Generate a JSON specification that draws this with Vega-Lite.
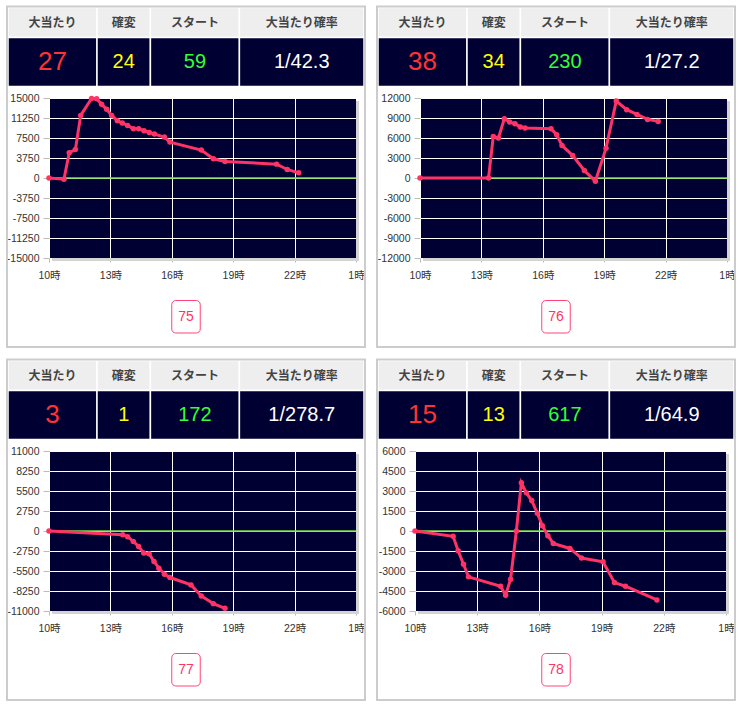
{
  "$schema": "https://vega.github.io/schema/vega-lite/v6.json",
  "background": "white",
  "padding": {"left": 6, "top": 5, "right": 2, "bottom": 2},
  "datasets": {
    "columns": [
      {"metric": "大当たり", "left": 0, "right": 25},
      {"metric": "確変", "left": 25, "right": 40},
      {"metric": "スタート", "left": 40, "right": 65},
      {"metric": "大当たり確率", "left": 65, "right": 100}
    ],
    "stats": [
      {"p": 1, "metric": "大当たり", "value": "27"},
      {"p": 1, "metric": "確変", "value": "24"},
      {"p": 1, "metric": "スタート", "value": "59"},
      {"p": 1, "metric": "大当たり確率", "value": "1/42.3"},
      {"p": 2, "metric": "大当たり", "value": "38"},
      {"p": 2, "metric": "確変", "value": "34"},
      {"p": 2, "metric": "スタート", "value": "230"},
      {"p": 2, "metric": "大当たり確率", "value": "1/27.2"},
      {"p": 3, "metric": "大当たり", "value": "3"},
      {"p": 3, "metric": "確変", "value": "1"},
      {"p": 3, "metric": "スタート", "value": "172"},
      {"p": 3, "metric": "大当たり確率", "value": "1/278.7"},
      {"p": 4, "metric": "大当たり", "value": "15"},
      {"p": 4, "metric": "確変", "value": "13"},
      {"p": 4, "metric": "スタート", "value": "617"},
      {"p": 4, "metric": "大当たり確率", "value": "1/64.9"}
    ],
    "buttons": [
      {"p": 1, "label": "75"},
      {"p": 2, "label": "76"},
      {"p": 3, "label": "77"},
      {"p": 4, "label": "78"}
    ],
    "series": [
      {"p": 1, "t": 10, "v": 0}, {"p": 1, "t": 10.73, "v": -220}, {"p": 1, "t": 10.99, "v": 4730}, {"p": 1, "t": 11.29, "v": 5350},
      {"p": 1, "t": 11.55, "v": 11740}, {"p": 1, "t": 12.08, "v": 14900}, {"p": 1, "t": 12.33, "v": 14850}, {"p": 1, "t": 12.57, "v": 13810},
      {"p": 1, "t": 12.82, "v": 12870}, {"p": 1, "t": 13.06, "v": 11740}, {"p": 1, "t": 13.34, "v": 10740}, {"p": 1, "t": 13.58, "v": 10300},
      {"p": 1, "t": 13.84, "v": 9860}, {"p": 1, "t": 14.12, "v": 9240}, {"p": 1, "t": 14.38, "v": 9240}, {"p": 1, "t": 14.64, "v": 8860},
      {"p": 1, "t": 14.9, "v": 8550}, {"p": 1, "t": 15.15, "v": 8230}, {"p": 1, "t": 15.64, "v": 7670}, {"p": 1, "t": 15.91, "v": 6730},
      {"p": 1, "t": 17.44, "v": 5230}, {"p": 1, "t": 18.03, "v": 3600}, {"p": 1, "t": 18.6, "v": 3100}, {"p": 1, "t": 21.12, "v": 2600},
      {"p": 1, "t": 21.64, "v": 1600}, {"p": 1, "t": 22.2, "v": 970},
      {"p": 2, "t": 10, "v": 0}, {"p": 2, "t": 13.35, "v": 0}, {"p": 2, "t": 13.58, "v": 6240}, {"p": 2, "t": 13.83, "v": 5990},
      {"p": 2, "t": 14.12, "v": 8890}, {"p": 2, "t": 14.38, "v": 8390}, {"p": 2, "t": 14.64, "v": 8140}, {"p": 2, "t": 14.9, "v": 7640},
      {"p": 2, "t": 15.13, "v": 7490}, {"p": 2, "t": 16.4, "v": 7390}, {"p": 2, "t": 16.68, "v": 6490}, {"p": 2, "t": 16.94, "v": 4880},
      {"p": 2, "t": 17.46, "v": 3380}, {"p": 2, "t": 18.03, "v": 1130}, {"p": 2, "t": 18.57, "v": -480}, {"p": 2, "t": 19.09, "v": 4480},
      {"p": 2, "t": 19.59, "v": 11550}, {"p": 2, "t": 20.1, "v": 10250}, {"p": 2, "t": 20.6, "v": 9540}, {"p": 2, "t": 21.12, "v": 8790},
      {"p": 2, "t": 21.64, "v": 8490},
      {"p": 3, "t": 10, "v": 0}, {"p": 3, "t": 13.6, "v": -506}, {"p": 3, "t": 13.84, "v": -782}, {"p": 3, "t": 14.12, "v": -1427},
      {"p": 3, "t": 14.38, "v": -2117}, {"p": 3, "t": 14.63, "v": -3037}, {"p": 3, "t": 14.89, "v": -3129}, {"p": 3, "t": 15.13, "v": -4188},
      {"p": 3, "t": 15.37, "v": -5108}, {"p": 3, "t": 15.64, "v": -5936}, {"p": 3, "t": 15.91, "v": -6397}, {"p": 3, "t": 16.94, "v": -7409},
      {"p": 3, "t": 17.44, "v": -8928}, {"p": 3, "t": 18.03, "v": -9986}, {"p": 3, "t": 18.6, "v": -10630},
      {"p": 4, "t": 10, "v": 0}, {"p": 4, "t": 11.84, "v": -400}, {"p": 4, "t": 12.08, "v": -1480}, {"p": 4, "t": 12.34, "v": -2490},
      {"p": 4, "t": 12.58, "v": -3440}, {"p": 4, "t": 14.13, "v": -4140}, {"p": 4, "t": 14.37, "v": -4820}, {"p": 4, "t": 14.61, "v": -3620},
      {"p": 4, "t": 14.89, "v": 0}, {"p": 4, "t": 15.13, "v": 3620}, {"p": 4, "t": 15.37, "v": 2860}, {"p": 4, "t": 15.63, "v": 2280},
      {"p": 4, "t": 15.9, "v": 1330}, {"p": 4, "t": 16.14, "v": 400}, {"p": 4, "t": 16.41, "v": -350}, {"p": 4, "t": 16.67, "v": -930},
      {"p": 4, "t": 17.47, "v": -1310}, {"p": 4, "t": 18.03, "v": -2030}, {"p": 4, "t": 19.07, "v": -2310}, {"p": 4, "t": 19.62, "v": -3870},
      {"p": 4, "t": 20.15, "v": -4140}, {"p": 4, "t": 21.67, "v": -5170}
    ]
  },
  "spacing": 10,
  "vconcat": [
    {
      "spacing": 10,
      "hconcat": [
        {
          "width": 307, "height": 160,
          "resolve": {"scale": {"x": "independent", "y": "independent"}},
          "layer": [
            {
              "layer": [
                {"data": {"name": "columns"}, "mark": {"type": "rect", "fill": "#eeeeee", "stroke": "#ffffff", "strokeWidth": 1.5},
                 "encoding": {"x": {"field": "left", "type": "quantitative", "scale": {"domain": [0, 100], "range": [-41, 315], "nice": false, "zero": false}, "axis": null},
                              "x2": {"field": "right"},
                              "y": {"datum": 0, "type": "quantitative", "scale": {"domain": [0, 1, 2, 3, 4, 5], "range": [-90.5, -60.5, -11.5, 202.5, 235, 248], "nice": false, "zero": false}, "axis": null},
                              "y2": {"datum": 1}}},
                {"data": {"name": "columns"}, "transform": [{"calculate": "(datum.left + datum.right) / 2", "as": "mid"}],
                 "mark": {"type": "text", "font": "Noto Sans CJK JP", "fontSize": 12, "fontWeight": "bold", "color": "#444444"},
                 "encoding": {"x": {"field": "mid", "type": "quantitative", "axis": null}, "y": {"datum": 0.5, "type": "quantitative", "axis": null}, "text": {"field": "metric"}}},
                {"data": {"name": "columns"}, "mark": {"type": "rect", "fill": "#000033", "stroke": "#ffffff", "strokeWidth": 1.5},
                 "encoding": {"x": {"field": "left", "type": "quantitative", "axis": null}, "x2": {"field": "right"}, "y": {"datum": 1, "type": "quantitative", "axis": null}, "y2": {"datum": 2}}},
                {"data": {"name": "stats"},
                 "transform": [{"filter": "datum.p == 1 && datum.metric == '大当たり'"}, {"lookup": "metric", "from": {"data": {"name": "columns"}, "key": "metric", "fields": ["left", "right"]}}, {"calculate": "(datum.left + datum.right) / 2", "as": "mid"}],
                 "mark": {"type": "text", "font": "Liberation Sans", "fontSize": 26},
                 "encoding": {"x": {"field": "mid", "type": "quantitative", "axis": null}, "y": {"datum": 1.5, "type": "quantitative", "axis": null}, "text": {"field": "value"},
                              "color": {"field": "metric", "type": "nominal", "scale": {"domain": ["大当たり", "確変", "スタート", "大当たり確率"], "range": ["#ff3333", "#ffff00", "#33ff33", "#ffffff"]}, "legend": null}}},
                {"data": {"name": "stats"},
                 "transform": [{"filter": "datum.p == 1 && datum.metric != '大当たり'"}, {"lookup": "metric", "from": {"data": {"name": "columns"}, "key": "metric", "fields": ["left", "right"]}}, {"calculate": "(datum.left + datum.right) / 2", "as": "mid"}],
                 "mark": {"type": "text", "font": "Liberation Sans", "fontSize": 20},
                 "encoding": {"x": {"field": "mid", "type": "quantitative", "axis": null}, "y": {"datum": 1.5, "type": "quantitative", "axis": null}, "text": {"field": "value"},
                              "color": {"field": "metric", "type": "nominal", "legend": null}}},
                {"data": {"name": "buttons"}, "transform": [{"filter": "datum.p == 1"}],
                 "mark": {"type": "rect", "fill": "#ffffff", "stroke": "#ff4477", "strokeWidth": 1, "cornerRadius": 4},
                 "encoding": {"x": {"datum": 46, "type": "quantitative", "axis": null}, "x2": {"datum": 54}, "y": {"datum": 3, "type": "quantitative", "axis": null}, "y2": {"datum": 4}}},
                {"data": {"name": "buttons"}, "transform": [{"filter": "datum.p == 1"}],
                 "mark": {"type": "text", "font": "Liberation Sans", "fontSize": 14, "color": "#ff3366"},
                 "encoding": {"x": {"datum": 50, "type": "quantitative", "axis": null}, "y": {"datum": 3.5, "type": "quantitative", "axis": null}, "text": {"field": "label"}}},
                {"data": {"name": "buttons"}, "transform": [{"filter": "datum.p == 1"}],
                 "mark": {"type": "rect", "fill": "transparent", "stroke": "#cccccc", "strokeWidth": 2, "xOffset": -1, "x2Offset": 1, "yOffset": -1, "y2Offset": 1},
                 "encoding": {"x": {"datum": 0, "type": "quantitative", "axis": null}, "x2": {"datum": 100}, "y": {"datum": 0, "type": "quantitative", "axis": null}, "y2": {"datum": 5}}}
              ]
            },
            {
              "resolve": {"scale": {"x": "shared", "y": "shared"}, "axis": {"x": "shared", "y": "shared"}},
              "layer": [
                {"data": {"name": "buttons"}, "transform": [{"filter": "datum.p == 1"}],
                 "mark": {"type": "rect", "fill": "#d4d4d4", "x2Offset": 3, "yOffset": 3, "y2Offset": 3},
                 "encoding": {
                   "x": {"datum": 25, "type": "quantitative", "scale": {"domain": [10, 25], "nice": false, "zero": false},
                         "axis": {"orient": "bottom", "title": null, "grid": true, "gridColor": "#ffffff", "gridOpacity": 1, "values": [10, 13, 16, 19, 22, 25], "labelExpr": "(datum.value % 24) + '時'"}},
                   "x2": {"datum": 25},
                   "y": {"datum": 15000, "type": "quantitative", "scale": {"domain": [-15000, 15000], "nice": false, "zero": false},
                         "axis": {"orient": "left", "title": null, "grid": true, "gridColor": "#ffffff", "gridOpacity": 1, "values": [-15000, -11250, -7500, -3750, 0, 3750, 7500, 11250, 15000], "labelExpr": "'' + datum.value"}},
                   "y2": {"datum": -15000}}},
                {"data": {"name": "buttons"}, "transform": [{"filter": "datum.p == 1"}],
                 "mark": {"type": "rect", "fill": "#d4d4d4", "xOffset": 3, "x2Offset": 3, "y2Offset": 3},
                 "encoding": {
                   "x": {"datum": 10, "type": "quantitative", "scale": {"domain": [10, 25], "nice": false, "zero": false},
                         "axis": {"orient": "bottom", "title": null, "grid": true, "gridColor": "#ffffff", "gridOpacity": 1, "values": [10, 13, 16, 19, 22, 25], "labelExpr": "(datum.value % 24) + '時'"}},
                   "x2": {"datum": 25},
                   "y": {"datum": -15000, "type": "quantitative", "scale": {"domain": [-15000, 15000], "nice": false, "zero": false},
                         "axis": {"orient": "left", "title": null, "grid": true, "gridColor": "#ffffff", "gridOpacity": 1, "values": [-15000, -11250, -7500, -3750, 0, 3750, 7500, 11250, 15000], "labelExpr": "'' + datum.value"}},
                   "y2": {"datum": -15000}}},
                {"data": {"name": "buttons"}, "transform": [{"filter": "datum.p == 1"}],
                 "mark": {"type": "rule", "color": "#77dd44", "strokeWidth": 1.5},
                 "encoding": {
                   "y": {"datum": 0, "type": "quantitative", "scale": {"domain": [-15000, 15000], "nice": false, "zero": false},
                         "axis": {"orient": "left", "title": null, "grid": true, "gridColor": "#ffffff", "gridOpacity": 1, "values": [-15000, -11250, -7500, -3750, 0, 3750, 7500, 11250, 15000], "labelExpr": "'' + datum.value"}}}},
                {"data": {"name": "series"}, "transform": [{"filter": "datum.p == 1"}],
                 "mark": {"type": "line", "color": "#ff3366", "strokeWidth": 3},
                 "encoding": {
                   "x": {"field": "t", "type": "quantitative", "scale": {"domain": [10, 25], "nice": false, "zero": false},
                         "axis": {"orient": "bottom", "title": null, "grid": true, "gridColor": "#ffffff", "gridOpacity": 1, "values": [10, 13, 16, 19, 22, 25], "labelExpr": "(datum.value % 24) + '時'"}},
                   "y": {"field": "v", "type": "quantitative", "scale": {"domain": [-15000, 15000], "nice": false, "zero": false},
                         "axis": {"orient": "left", "title": null, "grid": true, "gridColor": "#ffffff", "gridOpacity": 1, "values": [-15000, -11250, -7500, -3750, 0, 3750, 7500, 11250, 15000], "labelExpr": "'' + datum.value"}}}},
                {"data": {"name": "series"}, "transform": [{"filter": "datum.p == 1"}],
                 "mark": {"type": "circle", "color": "#ff3366", "size": 30, "opacity": 1},
                 "encoding": {
                   "x": {"field": "t", "type": "quantitative", "scale": {"domain": [10, 25], "nice": false, "zero": false},
                         "axis": {"orient": "bottom", "title": null, "grid": true, "gridColor": "#ffffff", "gridOpacity": 1, "values": [10, 13, 16, 19, 22, 25], "labelExpr": "(datum.value % 24) + '時'"}},
                   "y": {"field": "v", "type": "quantitative", "scale": {"domain": [-15000, 15000], "nice": false, "zero": false},
                         "axis": {"orient": "left", "title": null, "grid": true, "gridColor": "#ffffff", "gridOpacity": 1, "values": [-15000, -11250, -7500, -3750, 0, 3750, 7500, 11250, 15000], "labelExpr": "'' + datum.value"}}}}
              ]
            }
          ]
        },
        {
          "width": 307, "height": 160,
          "resolve": {"scale": {"x": "independent", "y": "independent"}},
          "layer": [
            {
              "layer": [
                {"data": {"name": "columns"}, "mark": {"type": "rect", "fill": "#eeeeee", "stroke": "#ffffff", "strokeWidth": 1.5},
                 "encoding": {"x": {"field": "left", "type": "quantitative", "scale": {"domain": [0, 100], "range": [-42, 314], "nice": false, "zero": false}, "axis": null},
                              "x2": {"field": "right"},
                              "y": {"datum": 0, "type": "quantitative", "scale": {"domain": [0, 1, 2, 3, 4, 5], "range": [-90.5, -60.5, -11.5, 202.5, 235, 248], "nice": false, "zero": false}, "axis": null},
                              "y2": {"datum": 1}}},
                {"data": {"name": "columns"}, "transform": [{"calculate": "(datum.left + datum.right) / 2", "as": "mid"}],
                 "mark": {"type": "text", "font": "Noto Sans CJK JP", "fontSize": 12, "fontWeight": "bold", "color": "#444444"},
                 "encoding": {"x": {"field": "mid", "type": "quantitative", "axis": null}, "y": {"datum": 0.5, "type": "quantitative", "axis": null}, "text": {"field": "metric"}}},
                {"data": {"name": "columns"}, "mark": {"type": "rect", "fill": "#000033", "stroke": "#ffffff", "strokeWidth": 1.5},
                 "encoding": {"x": {"field": "left", "type": "quantitative", "axis": null}, "x2": {"field": "right"}, "y": {"datum": 1, "type": "quantitative", "axis": null}, "y2": {"datum": 2}}},
                {"data": {"name": "stats"},
                 "transform": [{"filter": "datum.p == 2 && datum.metric == '大当たり'"}, {"lookup": "metric", "from": {"data": {"name": "columns"}, "key": "metric", "fields": ["left", "right"]}}, {"calculate": "(datum.left + datum.right) / 2", "as": "mid"}],
                 "mark": {"type": "text", "font": "Liberation Sans", "fontSize": 26},
                 "encoding": {"x": {"field": "mid", "type": "quantitative", "axis": null}, "y": {"datum": 1.5, "type": "quantitative", "axis": null}, "text": {"field": "value"},
                              "color": {"field": "metric", "type": "nominal", "scale": {"domain": ["大当たり", "確変", "スタート", "大当たり確率"], "range": ["#ff3333", "#ffff00", "#33ff33", "#ffffff"]}, "legend": null}}},
                {"data": {"name": "stats"},
                 "transform": [{"filter": "datum.p == 2 && datum.metric != '大当たり'"}, {"lookup": "metric", "from": {"data": {"name": "columns"}, "key": "metric", "fields": ["left", "right"]}}, {"calculate": "(datum.left + datum.right) / 2", "as": "mid"}],
                 "mark": {"type": "text", "font": "Liberation Sans", "fontSize": 20},
                 "encoding": {"x": {"field": "mid", "type": "quantitative", "axis": null}, "y": {"datum": 1.5, "type": "quantitative", "axis": null}, "text": {"field": "value"},
                              "color": {"field": "metric", "type": "nominal", "legend": null}}},
                {"data": {"name": "buttons"}, "transform": [{"filter": "datum.p == 2"}],
                 "mark": {"type": "rect", "fill": "#ffffff", "stroke": "#ff4477", "strokeWidth": 1, "cornerRadius": 4},
                 "encoding": {"x": {"datum": 46, "type": "quantitative", "axis": null}, "x2": {"datum": 54}, "y": {"datum": 3, "type": "quantitative", "axis": null}, "y2": {"datum": 4}}},
                {"data": {"name": "buttons"}, "transform": [{"filter": "datum.p == 2"}],
                 "mark": {"type": "text", "font": "Liberation Sans", "fontSize": 14, "color": "#ff3366"},
                 "encoding": {"x": {"datum": 50, "type": "quantitative", "axis": null}, "y": {"datum": 3.5, "type": "quantitative", "axis": null}, "text": {"field": "label"}}},
                {"data": {"name": "buttons"}, "transform": [{"filter": "datum.p == 2"}],
                 "mark": {"type": "rect", "fill": "transparent", "stroke": "#cccccc", "strokeWidth": 2, "xOffset": -1, "x2Offset": 1, "yOffset": -1, "y2Offset": 1},
                 "encoding": {"x": {"datum": 0, "type": "quantitative", "axis": null}, "x2": {"datum": 100}, "y": {"datum": 0, "type": "quantitative", "axis": null}, "y2": {"datum": 5}}}
              ]
            },
            {
              "resolve": {"scale": {"x": "shared", "y": "shared"}, "axis": {"x": "shared", "y": "shared"}},
              "layer": [
                {"data": {"name": "buttons"}, "transform": [{"filter": "datum.p == 2"}],
                 "mark": {"type": "rect", "fill": "#d4d4d4", "x2Offset": 3, "yOffset": 3, "y2Offset": 3},
                 "encoding": {
                   "x": {"datum": 25, "type": "quantitative", "scale": {"domain": [10, 25], "nice": false, "zero": false},
                         "axis": {"orient": "bottom", "title": null, "grid": true, "gridColor": "#ffffff", "gridOpacity": 1, "values": [10, 13, 16, 19, 22, 25], "labelExpr": "(datum.value % 24) + '時'"}},
                   "x2": {"datum": 25},
                   "y": {"datum": 12000, "type": "quantitative", "scale": {"domain": [-12000, 12000], "nice": false, "zero": false},
                         "axis": {"orient": "left", "title": null, "grid": true, "gridColor": "#ffffff", "gridOpacity": 1, "values": [-12000, -9000, -6000, -3000, 0, 3000, 6000, 9000, 12000], "labelExpr": "'' + datum.value"}},
                   "y2": {"datum": -12000}}},
                {"data": {"name": "buttons"}, "transform": [{"filter": "datum.p == 2"}],
                 "mark": {"type": "rect", "fill": "#d4d4d4", "xOffset": 3, "x2Offset": 3, "y2Offset": 3},
                 "encoding": {
                   "x": {"datum": 10, "type": "quantitative", "scale": {"domain": [10, 25], "nice": false, "zero": false},
                         "axis": {"orient": "bottom", "title": null, "grid": true, "gridColor": "#ffffff", "gridOpacity": 1, "values": [10, 13, 16, 19, 22, 25], "labelExpr": "(datum.value % 24) + '時'"}},
                   "x2": {"datum": 25},
                   "y": {"datum": -12000, "type": "quantitative", "scale": {"domain": [-12000, 12000], "nice": false, "zero": false},
                         "axis": {"orient": "left", "title": null, "grid": true, "gridColor": "#ffffff", "gridOpacity": 1, "values": [-12000, -9000, -6000, -3000, 0, 3000, 6000, 9000, 12000], "labelExpr": "'' + datum.value"}},
                   "y2": {"datum": -12000}}},
                {"data": {"name": "buttons"}, "transform": [{"filter": "datum.p == 2"}],
                 "mark": {"type": "rule", "color": "#77dd44", "strokeWidth": 1.5},
                 "encoding": {
                   "y": {"datum": 0, "type": "quantitative", "scale": {"domain": [-12000, 12000], "nice": false, "zero": false},
                         "axis": {"orient": "left", "title": null, "grid": true, "gridColor": "#ffffff", "gridOpacity": 1, "values": [-12000, -9000, -6000, -3000, 0, 3000, 6000, 9000, 12000], "labelExpr": "'' + datum.value"}}}},
                {"data": {"name": "series"}, "transform": [{"filter": "datum.p == 2"}],
                 "mark": {"type": "line", "color": "#ff3366", "strokeWidth": 3},
                 "encoding": {
                   "x": {"field": "t", "type": "quantitative", "scale": {"domain": [10, 25], "nice": false, "zero": false},
                         "axis": {"orient": "bottom", "title": null, "grid": true, "gridColor": "#ffffff", "gridOpacity": 1, "values": [10, 13, 16, 19, 22, 25], "labelExpr": "(datum.value % 24) + '時'"}},
                   "y": {"field": "v", "type": "quantitative", "scale": {"domain": [-12000, 12000], "nice": false, "zero": false},
                         "axis": {"orient": "left", "title": null, "grid": true, "gridColor": "#ffffff", "gridOpacity": 1, "values": [-12000, -9000, -6000, -3000, 0, 3000, 6000, 9000, 12000], "labelExpr": "'' + datum.value"}}}},
                {"data": {"name": "series"}, "transform": [{"filter": "datum.p == 2"}],
                 "mark": {"type": "circle", "color": "#ff3366", "size": 30, "opacity": 1},
                 "encoding": {
                   "x": {"field": "t", "type": "quantitative", "scale": {"domain": [10, 25], "nice": false, "zero": false},
                         "axis": {"orient": "bottom", "title": null, "grid": true, "gridColor": "#ffffff", "gridOpacity": 1, "values": [10, 13, 16, 19, 22, 25], "labelExpr": "(datum.value % 24) + '時'"}},
                   "y": {"field": "v", "type": "quantitative", "scale": {"domain": [-12000, 12000], "nice": false, "zero": false},
                         "axis": {"orient": "left", "title": null, "grid": true, "gridColor": "#ffffff", "gridOpacity": 1, "values": [-12000, -9000, -6000, -3000, 0, 3000, 6000, 9000, 12000], "labelExpr": "'' + datum.value"}}}}
              ]
            }
          ]
        }
      ]
    },
    {
      "spacing": 10,
      "hconcat": [
        {
          "width": 307, "height": 160,
          "resolve": {"scale": {"x": "independent", "y": "independent"}},
          "layer": [
            {
              "layer": [
                {"data": {"name": "columns"}, "mark": {"type": "rect", "fill": "#eeeeee", "stroke": "#ffffff", "strokeWidth": 1.5},
                 "encoding": {"x": {"field": "left", "type": "quantitative", "scale": {"domain": [0, 100], "range": [-41, 315], "nice": false, "zero": false}, "axis": null},
                              "x2": {"field": "right"},
                              "y": {"datum": 0, "type": "quantitative", "scale": {"domain": [0, 1, 2, 3, 4, 5], "range": [-90.5, -60.5, -11.5, 202.5, 235, 248], "nice": false, "zero": false}, "axis": null},
                              "y2": {"datum": 1}}},
                {"data": {"name": "columns"}, "transform": [{"calculate": "(datum.left + datum.right) / 2", "as": "mid"}],
                 "mark": {"type": "text", "font": "Noto Sans CJK JP", "fontSize": 12, "fontWeight": "bold", "color": "#444444"},
                 "encoding": {"x": {"field": "mid", "type": "quantitative", "axis": null}, "y": {"datum": 0.5, "type": "quantitative", "axis": null}, "text": {"field": "metric"}}},
                {"data": {"name": "columns"}, "mark": {"type": "rect", "fill": "#000033", "stroke": "#ffffff", "strokeWidth": 1.5},
                 "encoding": {"x": {"field": "left", "type": "quantitative", "axis": null}, "x2": {"field": "right"}, "y": {"datum": 1, "type": "quantitative", "axis": null}, "y2": {"datum": 2}}},
                {"data": {"name": "stats"},
                 "transform": [{"filter": "datum.p == 3 && datum.metric == '大当たり'"}, {"lookup": "metric", "from": {"data": {"name": "columns"}, "key": "metric", "fields": ["left", "right"]}}, {"calculate": "(datum.left + datum.right) / 2", "as": "mid"}],
                 "mark": {"type": "text", "font": "Liberation Sans", "fontSize": 26},
                 "encoding": {"x": {"field": "mid", "type": "quantitative", "axis": null}, "y": {"datum": 1.5, "type": "quantitative", "axis": null}, "text": {"field": "value"},
                              "color": {"field": "metric", "type": "nominal", "scale": {"domain": ["大当たり", "確変", "スタート", "大当たり確率"], "range": ["#ff3333", "#ffff00", "#33ff33", "#ffffff"]}, "legend": null}}},
                {"data": {"name": "stats"},
                 "transform": [{"filter": "datum.p == 3 && datum.metric != '大当たり'"}, {"lookup": "metric", "from": {"data": {"name": "columns"}, "key": "metric", "fields": ["left", "right"]}}, {"calculate": "(datum.left + datum.right) / 2", "as": "mid"}],
                 "mark": {"type": "text", "font": "Liberation Sans", "fontSize": 20},
                 "encoding": {"x": {"field": "mid", "type": "quantitative", "axis": null}, "y": {"datum": 1.5, "type": "quantitative", "axis": null}, "text": {"field": "value"},
                              "color": {"field": "metric", "type": "nominal", "legend": null}}},
                {"data": {"name": "buttons"}, "transform": [{"filter": "datum.p == 3"}],
                 "mark": {"type": "rect", "fill": "#ffffff", "stroke": "#ff4477", "strokeWidth": 1, "cornerRadius": 4},
                 "encoding": {"x": {"datum": 46, "type": "quantitative", "axis": null}, "x2": {"datum": 54}, "y": {"datum": 3, "type": "quantitative", "axis": null}, "y2": {"datum": 4}}},
                {"data": {"name": "buttons"}, "transform": [{"filter": "datum.p == 3"}],
                 "mark": {"type": "text", "font": "Liberation Sans", "fontSize": 14, "color": "#ff3366"},
                 "encoding": {"x": {"datum": 50, "type": "quantitative", "axis": null}, "y": {"datum": 3.5, "type": "quantitative", "axis": null}, "text": {"field": "label"}}},
                {"data": {"name": "buttons"}, "transform": [{"filter": "datum.p == 3"}],
                 "mark": {"type": "rect", "fill": "transparent", "stroke": "#cccccc", "strokeWidth": 2, "xOffset": -1, "x2Offset": 1, "yOffset": -1, "y2Offset": 1},
                 "encoding": {"x": {"datum": 0, "type": "quantitative", "axis": null}, "x2": {"datum": 100}, "y": {"datum": 0, "type": "quantitative", "axis": null}, "y2": {"datum": 5}}}
              ]
            },
            {
              "resolve": {"scale": {"x": "shared", "y": "shared"}, "axis": {"x": "shared", "y": "shared"}},
              "layer": [
                {"data": {"name": "buttons"}, "transform": [{"filter": "datum.p == 3"}],
                 "mark": {"type": "rect", "fill": "#d4d4d4", "x2Offset": 3, "yOffset": 3, "y2Offset": 3},
                 "encoding": {
                   "x": {"datum": 25, "type": "quantitative", "scale": {"domain": [10, 25], "nice": false, "zero": false},
                         "axis": {"orient": "bottom", "title": null, "grid": true, "gridColor": "#ffffff", "gridOpacity": 1, "values": [10, 13, 16, 19, 22, 25], "labelExpr": "(datum.value % 24) + '時'"}},
                   "x2": {"datum": 25},
                   "y": {"datum": 11000, "type": "quantitative", "scale": {"domain": [-11000, 11000], "nice": false, "zero": false},
                         "axis": {"orient": "left", "title": null, "grid": true, "gridColor": "#ffffff", "gridOpacity": 1, "values": [-11000, -8250, -5500, -2750, 0, 2750, 5500, 8250, 11000], "labelExpr": "'' + datum.value"}},
                   "y2": {"datum": -11000}}},
                {"data": {"name": "buttons"}, "transform": [{"filter": "datum.p == 3"}],
                 "mark": {"type": "rect", "fill": "#d4d4d4", "xOffset": 3, "x2Offset": 3, "y2Offset": 3},
                 "encoding": {
                   "x": {"datum": 10, "type": "quantitative", "scale": {"domain": [10, 25], "nice": false, "zero": false},
                         "axis": {"orient": "bottom", "title": null, "grid": true, "gridColor": "#ffffff", "gridOpacity": 1, "values": [10, 13, 16, 19, 22, 25], "labelExpr": "(datum.value % 24) + '時'"}},
                   "x2": {"datum": 25},
                   "y": {"datum": -11000, "type": "quantitative", "scale": {"domain": [-11000, 11000], "nice": false, "zero": false},
                         "axis": {"orient": "left", "title": null, "grid": true, "gridColor": "#ffffff", "gridOpacity": 1, "values": [-11000, -8250, -5500, -2750, 0, 2750, 5500, 8250, 11000], "labelExpr": "'' + datum.value"}},
                   "y2": {"datum": -11000}}},
                {"data": {"name": "buttons"}, "transform": [{"filter": "datum.p == 3"}],
                 "mark": {"type": "rule", "color": "#77dd44", "strokeWidth": 1.5},
                 "encoding": {
                   "y": {"datum": 0, "type": "quantitative", "scale": {"domain": [-11000, 11000], "nice": false, "zero": false},
                         "axis": {"orient": "left", "title": null, "grid": true, "gridColor": "#ffffff", "gridOpacity": 1, "values": [-11000, -8250, -5500, -2750, 0, 2750, 5500, 8250, 11000], "labelExpr": "'' + datum.value"}}}},
                {"data": {"name": "series"}, "transform": [{"filter": "datum.p == 3"}],
                 "mark": {"type": "line", "color": "#ff3366", "strokeWidth": 3},
                 "encoding": {
                   "x": {"field": "t", "type": "quantitative", "scale": {"domain": [10, 25], "nice": false, "zero": false},
                         "axis": {"orient": "bottom", "title": null, "grid": true, "gridColor": "#ffffff", "gridOpacity": 1, "values": [10, 13, 16, 19, 22, 25], "labelExpr": "(datum.value % 24) + '時'"}},
                   "y": {"field": "v", "type": "quantitative", "scale": {"domain": [-11000, 11000], "nice": false, "zero": false},
                         "axis": {"orient": "left", "title": null, "grid": true, "gridColor": "#ffffff", "gridOpacity": 1, "values": [-11000, -8250, -5500, -2750, 0, 2750, 5500, 8250, 11000], "labelExpr": "'' + datum.value"}}}},
                {"data": {"name": "series"}, "transform": [{"filter": "datum.p == 3"}],
                 "mark": {"type": "circle", "color": "#ff3366", "size": 30, "opacity": 1},
                 "encoding": {
                   "x": {"field": "t", "type": "quantitative", "scale": {"domain": [10, 25], "nice": false, "zero": false},
                         "axis": {"orient": "bottom", "title": null, "grid": true, "gridColor": "#ffffff", "gridOpacity": 1, "values": [10, 13, 16, 19, 22, 25], "labelExpr": "(datum.value % 24) + '時'"}},
                   "y": {"field": "v", "type": "quantitative", "scale": {"domain": [-11000, 11000], "nice": false, "zero": false},
                         "axis": {"orient": "left", "title": null, "grid": true, "gridColor": "#ffffff", "gridOpacity": 1, "values": [-11000, -8250, -5500, -2750, 0, 2750, 5500, 8250, 11000], "labelExpr": "'' + datum.value"}}}}
              ]
            }
          ]
        },
        {
          "width": 311, "height": 160,
          "resolve": {"scale": {"x": "independent", "y": "independent"}},
          "layer": [
            {
              "layer": [
                {"data": {"name": "columns"}, "mark": {"type": "rect", "fill": "#eeeeee", "stroke": "#ffffff", "strokeWidth": 1.5},
                 "encoding": {"x": {"field": "left", "type": "quantitative", "scale": {"domain": [0, 100], "range": [-37, 319], "nice": false, "zero": false}, "axis": null},
                              "x2": {"field": "right"},
                              "y": {"datum": 0, "type": "quantitative", "scale": {"domain": [0, 1, 2, 3, 4, 5], "range": [-90.5, -60.5, -11.5, 202.5, 235, 248], "nice": false, "zero": false}, "axis": null},
                              "y2": {"datum": 1}}},
                {"data": {"name": "columns"}, "transform": [{"calculate": "(datum.left + datum.right) / 2", "as": "mid"}],
                 "mark": {"type": "text", "font": "Noto Sans CJK JP", "fontSize": 12, "fontWeight": "bold", "color": "#444444"},
                 "encoding": {"x": {"field": "mid", "type": "quantitative", "axis": null}, "y": {"datum": 0.5, "type": "quantitative", "axis": null}, "text": {"field": "metric"}}},
                {"data": {"name": "columns"}, "mark": {"type": "rect", "fill": "#000033", "stroke": "#ffffff", "strokeWidth": 1.5},
                 "encoding": {"x": {"field": "left", "type": "quantitative", "axis": null}, "x2": {"field": "right"}, "y": {"datum": 1, "type": "quantitative", "axis": null}, "y2": {"datum": 2}}},
                {"data": {"name": "stats"},
                 "transform": [{"filter": "datum.p == 4 && datum.metric == '大当たり'"}, {"lookup": "metric", "from": {"data": {"name": "columns"}, "key": "metric", "fields": ["left", "right"]}}, {"calculate": "(datum.left + datum.right) / 2", "as": "mid"}],
                 "mark": {"type": "text", "font": "Liberation Sans", "fontSize": 26},
                 "encoding": {"x": {"field": "mid", "type": "quantitative", "axis": null}, "y": {"datum": 1.5, "type": "quantitative", "axis": null}, "text": {"field": "value"},
                              "color": {"field": "metric", "type": "nominal", "scale": {"domain": ["大当たり", "確変", "スタート", "大当たり確率"], "range": ["#ff3333", "#ffff00", "#33ff33", "#ffffff"]}, "legend": null}}},
                {"data": {"name": "stats"},
                 "transform": [{"filter": "datum.p == 4 && datum.metric != '大当たり'"}, {"lookup": "metric", "from": {"data": {"name": "columns"}, "key": "metric", "fields": ["left", "right"]}}, {"calculate": "(datum.left + datum.right) / 2", "as": "mid"}],
                 "mark": {"type": "text", "font": "Liberation Sans", "fontSize": 20},
                 "encoding": {"x": {"field": "mid", "type": "quantitative", "axis": null}, "y": {"datum": 1.5, "type": "quantitative", "axis": null}, "text": {"field": "value"},
                              "color": {"field": "metric", "type": "nominal", "legend": null}}},
                {"data": {"name": "buttons"}, "transform": [{"filter": "datum.p == 4"}],
                 "mark": {"type": "rect", "fill": "#ffffff", "stroke": "#ff4477", "strokeWidth": 1, "cornerRadius": 4},
                 "encoding": {"x": {"datum": 46, "type": "quantitative", "axis": null}, "x2": {"datum": 54}, "y": {"datum": 3, "type": "quantitative", "axis": null}, "y2": {"datum": 4}}},
                {"data": {"name": "buttons"}, "transform": [{"filter": "datum.p == 4"}],
                 "mark": {"type": "text", "font": "Liberation Sans", "fontSize": 14, "color": "#ff3366"},
                 "encoding": {"x": {"datum": 50, "type": "quantitative", "axis": null}, "y": {"datum": 3.5, "type": "quantitative", "axis": null}, "text": {"field": "label"}}},
                {"data": {"name": "buttons"}, "transform": [{"filter": "datum.p == 4"}],
                 "mark": {"type": "rect", "fill": "transparent", "stroke": "#cccccc", "strokeWidth": 2, "xOffset": -1, "x2Offset": 1, "yOffset": -1, "y2Offset": 1},
                 "encoding": {"x": {"datum": 0, "type": "quantitative", "axis": null}, "x2": {"datum": 100}, "y": {"datum": 0, "type": "quantitative", "axis": null}, "y2": {"datum": 5}}}
              ]
            },
            {
              "resolve": {"scale": {"x": "shared", "y": "shared"}, "axis": {"x": "shared", "y": "shared"}},
              "layer": [
                {"data": {"name": "buttons"}, "transform": [{"filter": "datum.p == 4"}],
                 "mark": {"type": "rect", "fill": "#d4d4d4", "x2Offset": 3, "yOffset": 3, "y2Offset": 3},
                 "encoding": {
                   "x": {"datum": 25, "type": "quantitative", "scale": {"domain": [10, 25], "nice": false, "zero": false},
                         "axis": {"orient": "bottom", "title": null, "grid": true, "gridColor": "#ffffff", "gridOpacity": 1, "values": [10, 13, 16, 19, 22, 25], "labelExpr": "(datum.value % 24) + '時'"}},
                   "x2": {"datum": 25},
                   "y": {"datum": 6000, "type": "quantitative", "scale": {"domain": [-6000, 6000], "nice": false, "zero": false},
                         "axis": {"orient": "left", "title": null, "grid": true, "gridColor": "#ffffff", "gridOpacity": 1, "values": [-6000, -4500, -3000, -1500, 0, 1500, 3000, 4500, 6000], "labelExpr": "'' + datum.value"}},
                   "y2": {"datum": -6000}}},
                {"data": {"name": "buttons"}, "transform": [{"filter": "datum.p == 4"}],
                 "mark": {"type": "rect", "fill": "#d4d4d4", "xOffset": 3, "x2Offset": 3, "y2Offset": 3},
                 "encoding": {
                   "x": {"datum": 10, "type": "quantitative", "scale": {"domain": [10, 25], "nice": false, "zero": false},
                         "axis": {"orient": "bottom", "title": null, "grid": true, "gridColor": "#ffffff", "gridOpacity": 1, "values": [10, 13, 16, 19, 22, 25], "labelExpr": "(datum.value % 24) + '時'"}},
                   "x2": {"datum": 25},
                   "y": {"datum": -6000, "type": "quantitative", "scale": {"domain": [-6000, 6000], "nice": false, "zero": false},
                         "axis": {"orient": "left", "title": null, "grid": true, "gridColor": "#ffffff", "gridOpacity": 1, "values": [-6000, -4500, -3000, -1500, 0, 1500, 3000, 4500, 6000], "labelExpr": "'' + datum.value"}},
                   "y2": {"datum": -6000}}},
                {"data": {"name": "buttons"}, "transform": [{"filter": "datum.p == 4"}],
                 "mark": {"type": "rule", "color": "#77dd44", "strokeWidth": 1.5},
                 "encoding": {
                   "y": {"datum": 0, "type": "quantitative", "scale": {"domain": [-6000, 6000], "nice": false, "zero": false},
                         "axis": {"orient": "left", "title": null, "grid": true, "gridColor": "#ffffff", "gridOpacity": 1, "values": [-6000, -4500, -3000, -1500, 0, 1500, 3000, 4500, 6000], "labelExpr": "'' + datum.value"}}}},
                {"data": {"name": "series"}, "transform": [{"filter": "datum.p == 4"}],
                 "mark": {"type": "line", "color": "#ff3366", "strokeWidth": 3},
                 "encoding": {
                   "x": {"field": "t", "type": "quantitative", "scale": {"domain": [10, 25], "nice": false, "zero": false},
                         "axis": {"orient": "bottom", "title": null, "grid": true, "gridColor": "#ffffff", "gridOpacity": 1, "values": [10, 13, 16, 19, 22, 25], "labelExpr": "(datum.value % 24) + '時'"}},
                   "y": {"field": "v", "type": "quantitative", "scale": {"domain": [-6000, 6000], "nice": false, "zero": false},
                         "axis": {"orient": "left", "title": null, "grid": true, "gridColor": "#ffffff", "gridOpacity": 1, "values": [-6000, -4500, -3000, -1500, 0, 1500, 3000, 4500, 6000], "labelExpr": "'' + datum.value"}}}},
                {"data": {"name": "series"}, "transform": [{"filter": "datum.p == 4"}],
                 "mark": {"type": "circle", "color": "#ff3366", "size": 30, "opacity": 1},
                 "encoding": {
                   "x": {"field": "t", "type": "quantitative", "scale": {"domain": [10, 25], "nice": false, "zero": false},
                         "axis": {"orient": "bottom", "title": null, "grid": true, "gridColor": "#ffffff", "gridOpacity": 1, "values": [10, 13, 16, 19, 22, 25], "labelExpr": "(datum.value % 24) + '時'"}},
                   "y": {"field": "v", "type": "quantitative", "scale": {"domain": [-6000, 6000], "nice": false, "zero": false},
                         "axis": {"orient": "left", "title": null, "grid": true, "gridColor": "#ffffff", "gridOpacity": 1, "values": [-6000, -4500, -3000, -1500, 0, 1500, 3000, 4500, 6000], "labelExpr": "'' + datum.value"}}}}
              ]
            }
          ]
        }
      ]
    }
  ],
  "config": {
    "view": {"fill": "#000033", "stroke": null},
    "axis": {"labelFont": "Liberation Sans, Noto Sans CJK JP", "labelFontSize": 10.5, "labelColor": "#333333", "domain": false, "tickColor": "#bbbbbb", "labelFlush": false, "labelOverlap": false, "labelBound": false},
    "axisX": {"tickSize": 4, "labelPadding": 8},
    "axisY": {"tickSize": 6, "labelPadding": 4}
  }
}
